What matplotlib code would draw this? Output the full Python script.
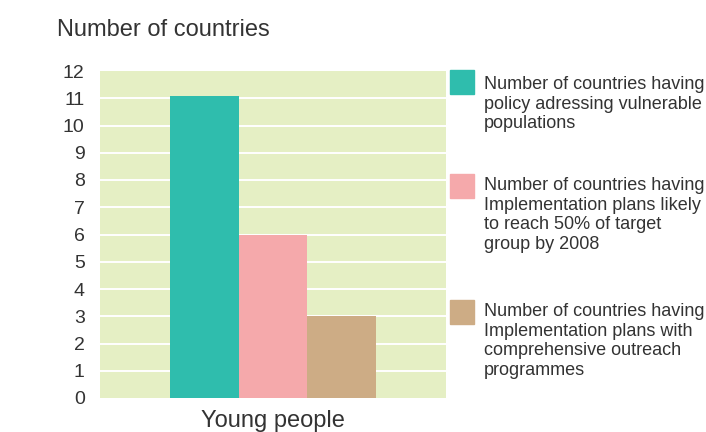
import matplotlib
matplotlib.use("Agg")
import matplotlib.pyplot as plt
from matplotlib.patches import Rectangle

# data
category = "Young people"
series_labels = [
    "Number of countries having\npolicy adressing vulnerable\npopulations",
    "Number of countries having\nImplementation plans likely\nto reach 50% of target\ngroup by 2008",
    "Number of countries having\nImplementation plans with\ncomprehensive outreach\nprogrammes",
]
values = [11.1, 6, 3]
colors = ["#2FBDAD", "#F5A9AB", "#CDAC85"]
y_ticks = list(range(0, 13))

plt.rcParams["font.family"] = ["Liberation Sans", "DejaVu Sans"]
text_color = "#333333"

W, H = 706, 432
fig = plt.figure(figsize=(W / 100, H / 100), dpi=100)
ax = fig.add_axes([100 / W, 1 - 398 / H, 346 / W, 327 / H])
ax.set_facecolor("#E5EFC4")

offsets = [-1, 0, 1]
for off, v, c in zip(offsets, values, colors):
    ax.bar(off, v, width=1.0, color=c, zorder=3)

ax.set_xlim(-2.52, 2.52)
ax.set_ylim(0, 12)
ax.set_yticks(y_ticks)
ax.set_yticklabels([str(t) for t in y_ticks], fontsize=14, color=text_color)
ax.set_xticks([0])
ax.set_xticklabels([category], fontsize=17, color=text_color)
ax.tick_params(axis="both", length=0)
ax.tick_params(axis="y", pad=11)
ax.tick_params(axis="x", pad=9)
for t in y_ticks[1:-1]:
    ax.axhline(t, color="white", linewidth=1.4, zorder=1)
for s in ax.spines.values():
    s.set_visible(False)

fig.text(57 / W, 1 - 19 / H, "Number of countries", fontsize=17,
         color=text_color, va="top", ha="left")

# legend
box_tops = [70, 174, 300]
text_tops = [76, 177, 303]
for top, ttop, lab, c in zip(box_tops, text_tops, series_labels, colors):
    fig.patches.append(Rectangle((450 / W, 1 - (top + 24) / H), 24 / W, 24 / H,
                                 transform=fig.transFigure, color=c))
    fig.text(484 / W, 1 - ttop / H, lab, fontsize=13, color=text_color,
             va="top", ha="left", linespacing=1.2)

fig.savefig("out.png", dpi=100)
